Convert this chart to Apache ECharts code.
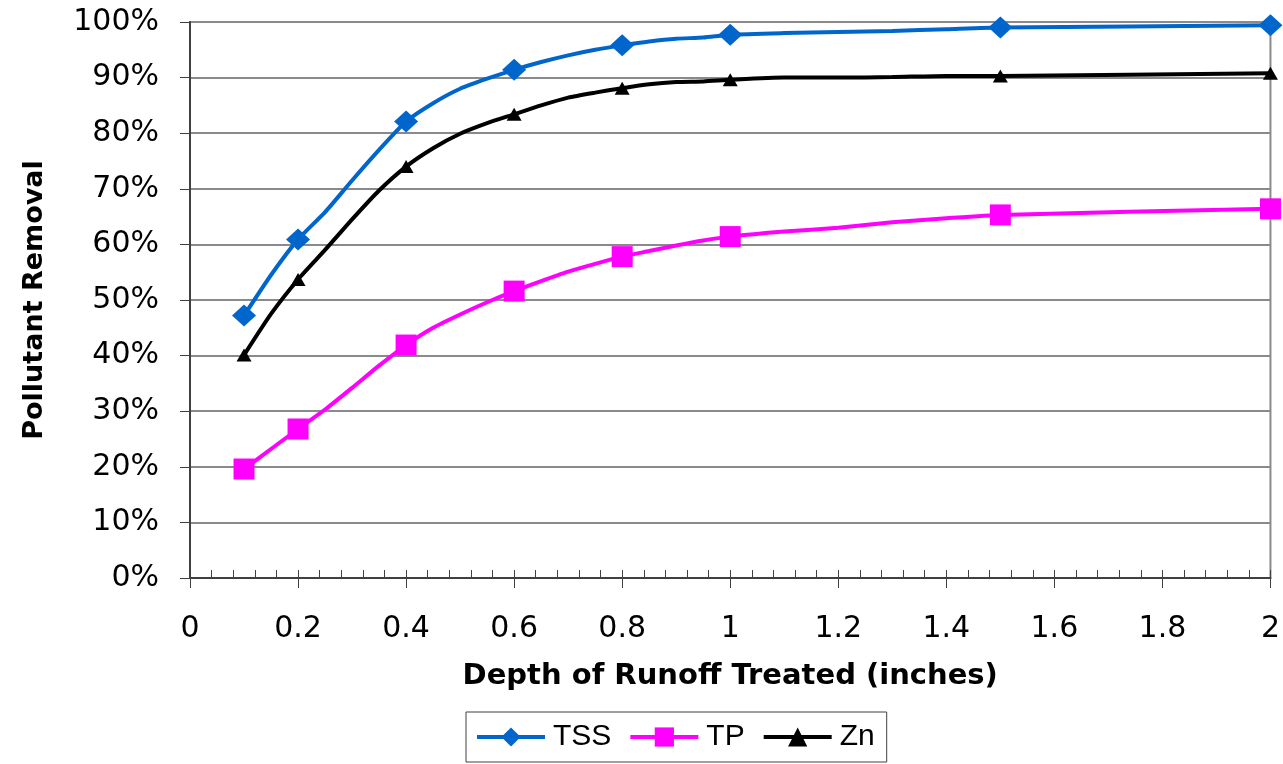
<!DOCTYPE html>
<html>
<head>
<meta charset="utf-8">
<script src="https://cdn.jsdelivr.net/npm/echarts@6/dist/echarts.min.js"></script>
<style>
html,body{margin:0;padding:0;background:#fff;}
#chart{width:1283px;height:764px;}
</style>
</head>
<body>
<div id="chart"></div>
<script>
// Depth of runoff treated (inches)
const depth = [0.1,0.15,0.2,0.25,0.3,0.35,0.4,0.45,0.5,0.55,0.6,0.65,0.7,0.75,0.8,0.85,0.9,0.95,1.0,1.1,1.2,1.3,1.4,1.5,2.0];
// Pollutant removal (%)
const tss = [47.2,54.5,60.9,65.8,71.5,77.0,82.1,85.4,88.0,89.8,91.4,92.8,94.0,95.0,95.8,96.5,97.0,97.2,97.7,98.0,98.2,98.4,98.7,99.0,99.4];
const tp  = [19.6,23.2,26.8,30.3,34.2,38.2,41.9,45.0,47.4,49.6,51.6,53.4,55.1,56.5,57.8,58.8,59.8,60.7,61.4,62.3,63.0,64.0,64.7,65.3,66.4];
const zn  = [40.1,47.5,53.7,59.0,64.5,69.7,74.0,77.3,79.9,81.8,83.4,85.0,86.4,87.3,88.1,88.8,89.2,89.3,89.6,90.0,90.0,90.1,90.3,90.3,90.8];
// depths at which markers are drawn
const markerDepths = [0.1,0.2,0.4,0.6,0.8,1.0,1.5,2.0];
const seriesNames = ['TSS','TP','Zn'];

function build(vals){
  return depth.map((d,i)=>{
    const item = {value:[d, vals[i]]};
    if (!markerDepths.includes(d)) item.symbol = 'none';
    return item;
  });
}

const chart = echarts.init(document.getElementById('chart'), null, {renderer:'canvas'});
const tickFont = {fontFamily:'DejaVu Sans', fontSize:30, color:'#000'};

chart.setOption({
  animation:false,
  backgroundColor:'#fff',
  grid:{left:190, right:12, top:22, bottom:186, show:true, borderColor:'#8a8a8a', borderWidth:2, containLabel:false},
  legend:{
    left:466, top:712,
    data:seriesNames,
    itemWidth:68, itemHeight:24, itemGap:17,
    padding:[10,12,10,9],
    borderColor:'#404040', borderWidth:1,
    lineStyle:{width:4},
    textStyle:{fontFamily:'Liberation Sans', fontSize:30, color:'#000', padding:[0,0,0,3]}
  },
  xAxis:[{
    type:'value', min:0, max:2, interval:0.2,
    axisLine:{show:true, lineStyle:{color:'#404040', width:2}},
    axisTick:{show:true, inside:false, length:10, lineStyle:{color:'#404040', width:1}},
    axisLabel:Object.assign({margin:36, formatter:(v)=>String(+v.toFixed(1))}, tickFont),
    splitLine:{show:false},
    name:'Depth of Runoff Treated (inches)',
    nameLocation:'middle', nameGap:84,
    nameTextStyle:{fontFamily:'DejaVu Sans', fontWeight:'bold', fontSize:29, color:'#000'}
  },{
    type:'value', min:0, max:2, interval:0.04, position:'bottom',
    axisLine:{show:false},
    axisTick:{show:true, inside:true, length:8, lineStyle:{color:'#404040', width:1}},
    axisLabel:{show:false},
    splitLine:{show:false}
  }],
  yAxis:{
    type:'value', min:0, max:100, interval:10,
    axisLine:{show:true, lineStyle:{color:'#404040', width:2}},
    axisTick:{show:true, inside:false, length:10, lineStyle:{color:'#404040', width:1}},
    axisLabel:Object.assign({margin:31, formatter:'{value}%'}, tickFont),
    splitLine:{show:true, lineStyle:{color:'#8a8a8a', width:2}},
    name:'Pollutant Removal',
    nameLocation:'middle', nameGap:142,
    nameTextStyle:{fontFamily:'DejaVu Sans', fontWeight:'bold', fontSize:27, color:'#000'}
  },
  series:[
    {name:'TSS', type:'line', xAxisIndex:0, data:build(tss), smooth:0.2,
     symbol:'diamond', symbolSize:[24,22], showSymbol:true, showAllSymbol:true,
     itemStyle:{color:'#0066CC'}, lineStyle:{color:'#0066CC', width:4}, z:3},
    {name:'TP', type:'line', xAxisIndex:0, data:build(tp), smooth:0.2,
     symbol:'rect', symbolSize:21, showSymbol:true, showAllSymbol:true,
     itemStyle:{color:'#FF00FF'}, lineStyle:{color:'#FF00FF', width:4}, z:2},
    {name:'Zn', type:'line', xAxisIndex:0, data:build(zn), smooth:0.2,
     symbol:'triangle', symbolSize:[15,13], showSymbol:true, showAllSymbol:true,
     itemStyle:{color:'#000000'}, lineStyle:{color:'#000000', width:4}, z:4}
  ]
});
</script>
</body>
</html>
